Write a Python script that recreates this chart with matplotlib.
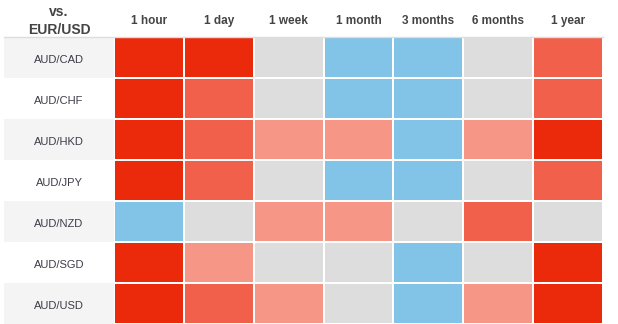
import matplotlib
matplotlib.use("Agg")
import matplotlib.pyplot as plt
from matplotlib.colors import ListedColormap, BoundaryNorm
from matplotlib.patches import Rectangle
import matplotlib.transforms as mtrans
import numpy as np

plt.rcParams['font.family'] = ['Liberation Sans', 'DejaVu Sans']

columns = ["1 hour", "1 day", "1 week", "1 month", "3 months", "6 months", "1 year"]
rows = ["AUD/CAD", "AUD/CHF", "AUD/HKD", "AUD/JPY", "AUD/NZD", "AUD/SGD", "AUD/USD"]
# levels: -1 blue, 0 neutral, 1 light red, 2 medium red, 3 strong red
aud_cad = [3, 3, 0, -1, -1, 0, 2]
aud_chf = [3, 2, 0, -1, -1, 0, 2]
aud_hkd = [3, 2, 1, 1, -1, 1, 3]
aud_jpy = [3, 2, 0, -1, -1, 0, 2]
aud_nzd = [-1, 0, 1, 1, 0, 2, 0]
aud_sgd = [3, 1, 0, 0, -1, 0, 3]
aud_usd = [3, 2, 1, 0, -1, 1, 3]
values = np.array([aud_cad, aud_chf, aud_hkd, aud_jpy, aud_nzd, aud_sgd, aud_usd])

W, H = 618, 324
fig = plt.figure(figsize=(W / 100, H / 100), dpi=100)

grid_left, grid_right = 114, 603
grid_top = 37
label_left = 4

ax = fig.add_axes([grid_left / W, 0, (grid_right - grid_left) / W, (H - grid_top) / H])
cmap = ListedColormap(["#82c3e8", "#dddddd", "#f59686", "#f0604a", "#eb2a0c"])
norm = BoundaryNorm([-1.5, -0.5, 0.5, 1.5, 2.5, 3.5], cmap.N)
ax.pcolormesh(values, cmap=cmap, norm=norm, edgecolors="white", linewidth=1.2)
ax.set_xlim(0, len(columns))
ax.set_ylim(len(rows), 0)
ax.axis("off")

# row labels column
blend = mtrans.blended_transform_factory(fig.transFigure, ax.transData)
lab_x0 = label_left / W
lab_w = (grid_left - label_left) / W
for i, r in enumerate(rows):
    if i % 2 == 0:
        ax.add_patch(Rectangle((lab_x0, i), lab_w, 1, transform=blend,
                               facecolor="#f4f4f4", edgecolor="none", clip_on=False))
    ax.text(lab_x0 + lab_w / 2, i + 0.57, r, transform=blend, ha="center", va="center",
            fontsize=8, color="#3c3c4a")

# header line
ax.plot([lab_x0, grid_right / W], [0, 0], transform=blend, color="#dddddd", lw=1, clip_on=False)

# column headers
for j, c in enumerate(columns):
    fig.text((grid_left + (j + 0.5) * (grid_right - grid_left) / len(columns)) / W,
             1 - 21 / H, c, ha="center", va="center", fontsize=8.5,
             fontweight="bold", color="#444444")

fig.text(lab_x0 + lab_w / 2, 1 - 21 / H, "vs.\nEUR/USD", ha="center", va="center",
         fontsize=10, fontweight="bold", color="#444444", linespacing=1.3)

fig.savefig("out.png", dpi=100)
